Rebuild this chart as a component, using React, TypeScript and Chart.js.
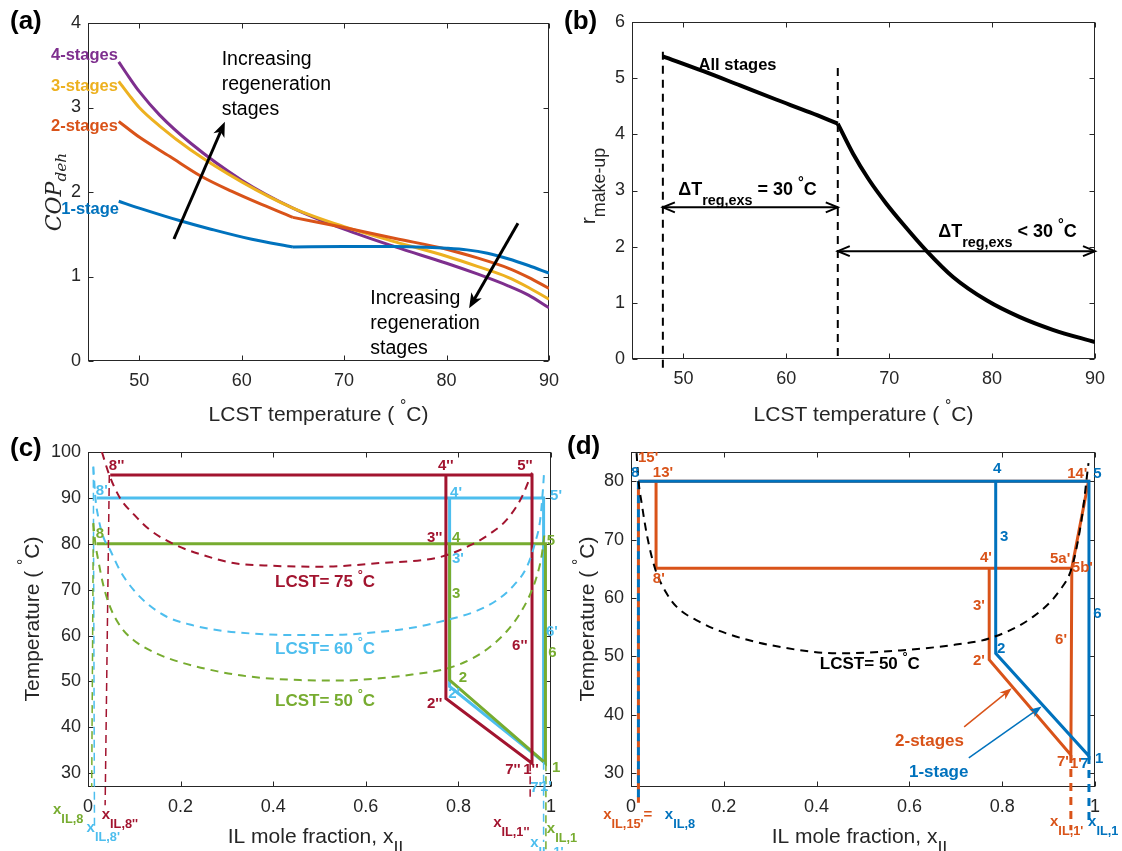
import React, { useEffect, useRef } from "react";
import { Chart, registerables } from "chart.js";
Chart.register(...registerables);

const FONT = '"Liberation Sans", Arial, Helvetica, sans-serif';
const SERIF = '"DejaVu Serif", "Liberation Serif", serif';
const AXIS = "#262626";
const BLACK = "#000000";
const BLUE = "#0072BD";
const ORANGE = "#D95319";
const YELLOW = "#EDB120";
const PURPLE = "#7E2F8E";
const GREEN = "#77AC30";
const LBLUE = "#4DBEEE";
const DRED = "#A2142F";

// ================= (a) COP_deh vs LCST temperature =================
const aTicksX = [50, 60, 70, 80, 90];
const aTicksY = [0, 1, 2, 3, 4];
const a1StageT = [48, 50, 54, 57, 61, 65, 70, 75, 78, 80, 82, 84, 86, 88, 90];
const a1StageCOP = [1.89, 1.81, 1.66, 1.56, 1.44, 1.35, 1.354, 1.354, 1.346, 1.335, 1.315, 1.275, 1.21, 1.13, 1.04];
const a2StageT = [48, 50, 53, 56, 59, 62, 65, 70, 75, 80, 83, 86, 88, 90];
const a2StageCOP = [2.835, 2.65, 2.42, 2.19, 2.01, 1.85, 1.7, 1.58, 1.45, 1.323, 1.22, 1.1, 0.99, 0.86];
const a3StageT = [48, 49, 50, 52, 55, 60, 65, 70, 75, 80, 83, 86, 88, 90];
const a3StageCOP = [3.31, 3.15, 3.0, 2.78, 2.5, 2.12, 1.81, 1.59, 1.41, 1.24, 1.12, 0.99, 0.87, 0.73];
const a4StageT = [48, 49, 50, 52, 55, 60, 65, 70, 75, 80, 83, 86, 88, 90];
const a4StageCOP = [3.54, 3.36, 3.19, 2.91, 2.58, 2.14, 1.81, 1.56, 1.35, 1.157, 1.03, 0.89, 0.78, 0.63];

// ================= (b) r_make-up vs LCST temperature =================
const bTicksX = [50, 60, 70, 80, 90];
const bTicksY = [0, 1, 2, 3, 4, 5, 6];
const bLowT = [48, 52, 55.5, 59, 62.3, 65];
const bLowR = [5.39, 5.12, 4.87, 4.62, 4.39, 4.19];
const bHighT = [65, 66.5, 68, 69.7, 71.4, 73.6, 76.2, 79.5, 82.7, 85.9, 90];
const bHighR = [4.19, 3.65, 3.2, 2.77, 2.39, 1.93, 1.46, 1.04, 0.745, 0.52, 0.3];
const bGuide1T = [48, 48];
const bGuide1R = [5.47, -0.16];
const bGuide2T = [65, 65];
const bGuide2R = [5.18, 0];

// ================= (c) T-x diagram, three LCSTs =================
const cTicksX = [0, 0.2, 0.4, 0.6, 0.8, 1];
const cTicksY = [30, 40, 50, 60, 70, 80, 90, 100];
const bin75X = [0.03, 0.046, 0.069, 0.1, 0.134, 0.19, 0.25, 0.314, 0.4, 0.5, 0.63, 0.76, 0.832, 0.87, 0.904, 0.935, 0.959];
const bin75Y = [100, 95, 90, 86.3, 83, 79.7, 77.5, 75.8, 75.2, 75.0, 75.8, 77.1, 80, 82.3, 85.2, 89.8, 95.5];
const bin60X = [0.0115, 0.016, 0.022, 0.033, 0.0475, 0.07, 0.098, 0.13, 0.17, 0.22, 0.278, 0.36, 0.458, 0.55, 0.63, 0.7, 0.775, 0.835, 0.883, 0.92, 0.948, 0.965, 0.977, 0.983, 0.985];
const bin60Y = [96.8, 90, 85.9, 81.5, 78.7, 74, 70.0, 66.8, 64.1, 62.4, 61.2, 60.4, 60.1, 60.2, 60.8, 61.7, 63.4, 65.2, 67.7, 71, 75, 80, 85.5, 92.4, 95.5];
const bin50X = [0.0115, 0.016, 0.022, 0.033, 0.0475, 0.07, 0.098, 0.15, 0.206, 0.28, 0.35, 0.458, 0.55, 0.63, 0.7, 0.775, 0.83, 0.868, 0.905, 0.933, 0.955, 0.969, 0.98, 0.987];
const bin50Y = [84.5, 80, 76.5, 71, 66.3, 62, 59.05, 56, 54.0, 52.2, 51.05, 50.3, 50.2, 50.7, 51.5, 52.8, 55, 57.5, 61, 64.8, 69, 72.8, 77.5, 83];
const cyc95X = [0.048, 0.959, 0.959, 0.773, 0.773];
const cyc95Y = [95, 95, 32.2, 46.3, 95];
const cyc90X = [0.019, 0.984, 0.984, 0.781, 0.781];
const cyc90Y = [90, 90, 32.5, 48.9, 90];
const cyc80X = [0.019, 0.988, 0.988, 0.781, 0.781];
const cyc80Y = [80, 80, 32.2, 50.3, 80];
const xIL8ppX = [0.046, 0.037];
const xIL8ppY = [95, 23];
const xIL8pX = [0.0115, 0.014];
const xIL8pY = [96.8, 18.3];
const xIL8X = [0.0115, 0.008];
const xIL8Y = [84.5, 27];
const xIL1ppX = [0.955, 0.955];
const xIL1ppY = [32.2, 24.9];
const xIL1pX = [0.984, 0.984];
const xIL1pY = [32.5, 15];
const xIL1X = [0.989, 0.989];
const xIL1Y = [32.2, 13.3];

// ================= (d) T-x diagram, 1-stage vs 2-stages =================
const dTicksX = [0, 0.2, 0.4, 0.6, 0.8, 1];
const dTicksY = [30, 40, 50, 60, 70, 80];
const dBinX = [0.012, 0.016, 0.023, 0.035, 0.052, 0.075, 0.098, 0.15, 0.206, 0.314, 0.45, 0.58, 0.7, 0.774, 0.867, 0.925, 0.95, 0.971, 0.986];
const dBinY = [84.8, 80.2, 76.2, 70.5, 65.0, 61.0, 58.5, 55.8, 53.9, 51.7, 50.5, 51.0, 52.0, 53.1, 56.8, 61.4, 65.2, 73.4, 83.1];
const d1StageX = [0.016, 0.987, 0.987, 0.786, 0.786];
const d1StageY = [80, 80, 32.9, 50.5, 80];
const d2StageTopX = [0.016, 0.986, 0.95, 0.054, 0.054];
const d2StageTopY = [80, 80, 65.1, 65.1, 80];
const d2StageLowX = [0.772, 0.772, 0.948, 0.95];
const d2StageLowY = [65.1, 49.4, 33.1, 65.1];
const dXIL8X = [0.016, 0.016];
const dXIL8Y = [80, 25];
const dXIL15X = [0.016, 0.016];
const dXIL15Y = [80, 24.9];
const dXIL1pX = [0.948, 0.948];
const dXIL1pY = [33.1, 20.2];
const dXIL1X = [0.987, 0.987];
const dXIL1Y = [32.9, 21.4];

// ---------------- helpers ----------------
type Pt = { x: number; y: number };
const zip = (xs: number[], ys: number[]): Pt[] => xs.map((x, i) => ({ x, y: ys[i] }));
function splitAt(xs: number[], ys: number[], at: number): [Pt[], Pt[]] {
  const i = xs.indexOf(at);
  return [zip(xs.slice(0, i + 1), ys.slice(0, i + 1)), zip(xs.slice(i), ys.slice(i))];
}
const curve = (data: Pt[], color: string, width: number, extra: any = {}) => ({
  data, borderColor: color, borderWidth: width, pointRadius: 0, fill: false,
  cubicInterpolationMode: "monotone", borderCapStyle: "butt", ...extra,
});
const poly = (data: Pt[], color: string, width: number, extra: any = {}) => ({
  data, borderColor: color, borderWidth: width, pointRadius: 0, fill: false,
  tension: 0, borderJoinStyle: "miter", ...extra,
});
const dashed = (data: Pt[], color: string, width: number, dash: number[], extra: any = {}) => ({
  data, borderColor: color, borderWidth: width, pointRadius: 0, fill: false,
  tension: 0, borderDash: dash, clip: false, ...extra,
});

type Seg = { t: string; m: 0 | 1 | 2 };
function parseRich(s: string): Seg[] {
  const out: Seg[] = [];
  const re = /(_\{[^}]*\}|\^\{[^}]*\})/g;
  let last = 0;
  let m: RegExpExecArray | null;
  while ((m = re.exec(s))) {
    if (m.index > last) out.push({ t: s.slice(last, m.index), m: 0 });
    out.push({ t: m[0].slice(2, -1), m: m[0][0] === "_" ? 1 : 2 });
    last = m.index + m[0].length;
  }
  if (last < s.length) out.push({ t: s.slice(last), m: 0 });
  return out;
}

interface RichStyle {
  size: number; color: string; bold?: boolean; italic?: boolean; family?: string;
  align?: "left" | "center" | "right"; subScale?: number; subShift?: number;
}
function drawRich(ctx: CanvasRenderingContext2D, s: string, x: number, y: number, st: RichStyle) {
  const segs = parseRich(s);
  const fam = st.family || FONT;
  const subScale = st.subScale ?? 0.8;
  const fontFor = (m: number) =>
    `${st.italic ? "italic " : ""}${st.bold ? "bold " : ""}${m === 0 ? st.size : st.size * subScale}px ${fam}`;
  let w = 0;
  const widths = segs.map((sg) => {
    ctx.font = fontFor(sg.m);
    const ww = ctx.measureText(sg.t).width;
    w += ww;
    return ww;
  });
  let cx = st.align === "center" ? x - w / 2 : st.align === "right" ? x - w : x;
  const base = y + st.size * 0.36;
  ctx.fillStyle = st.color;
  ctx.textBaseline = "alphabetic";
  ctx.textAlign = "left";
  segs.forEach((sg, i) => {
    ctx.font = fontFor(sg.m);
    const dy = sg.m === 1 ? st.size * (st.subShift ?? 0.5) : sg.m === 2 ? -st.size * 0.45 : 0;
    ctx.fillText(sg.t, cx, base + dy);
    cx += widths[i];
  });
}

function drawArrow(ctx: CanvasRenderingContext2D, x1: number, y1: number, x2: number, y2: number,
  color: string, lw: number, L: number, W: number, both: boolean, open: boolean) {
  const a = Math.atan2(y2 - y1, x2 - x1);
  const c = Math.cos(a), s = Math.sin(a);
  ctx.strokeStyle = color;
  ctx.fillStyle = color;
  ctx.lineWidth = lw;
  ctx.setLineDash([]);
  ctx.lineCap = "butt";
  const head = (tx: number, ty: number, cc: number, ss: number) => {
    if (open) {
      ctx.beginPath();
      ctx.moveTo(tx - L * cc + (W / 2) * ss, ty - L * ss - (W / 2) * cc);
      ctx.lineTo(tx, ty);
      ctx.lineTo(tx - L * cc - (W / 2) * ss, ty - L * ss + (W / 2) * cc);
      ctx.stroke();
      return;
    }
    ctx.beginPath();
    ctx.moveTo(tx, ty);
    ctx.lineTo(tx - L * cc + (W / 2) * ss, ty - L * ss - (W / 2) * cc);
    ctx.lineTo(tx - 0.72 * L * cc, ty - 0.72 * L * ss);
    ctx.lineTo(tx - L * cc - (W / 2) * ss, ty - L * ss + (W / 2) * cc);
    ctx.closePath();
    ctx.fill();
  };
  const inset = open ? 0 : 0.7 * L;
  const sx = both ? x1 + inset * c : x1;
  const sy = both ? y1 + inset * s : y1;
  ctx.beginPath();
  ctx.moveTo(sx, sy);
  ctx.lineTo(x2 - inset * c, y2 - inset * s);
  ctx.stroke();
  head(x2, y2, c, s);
  if (both) head(x1, y1, -c, -s);
}

interface Txt extends Partial<RichStyle> { s: string; x: number; y: number; c: string; size: number; }
interface Arw { x1: number; y1: number; x2: number; y2: number; c: string; w: number; L: number; W: number; both?: boolean; open?: boolean; }
interface PageTxt extends Partial<RichStyle> { s: string; px: number; py: number; size: number; c: string; rotate?: boolean; }
interface Spec {
  canvas: { left: number; top: number; width: number; height: number };
  area: { left: number; top: number; right: number; bottom: number };
  x: { min: number; max: number; ticks: number[] };
  y: { min: number; max: number; ticks: number[] };
  datasets: any[];
  texts: Txt[];
  arrows: Arw[];
  page: PageTxt[];
}

const PT = 15; // point-label size
const TITLE = 21;
const lab = (s: string, x: number, y: number, c: string, extra: any = {}): Txt => ({ s, x, y, c, size: PT, bold: true, align: "left", ...extra });
const lcst = (s: string, x: number, y: number, c: string): Txt => ({ s, x, y, c, size: 17, bold: true, align: "left", subScale: 0.75 });
const xl = (s: string, x: number, y: number, c: string): Txt => ({ s, x, y, c, size: 15, bold: true, align: "left", subShift: 0.6, subScale: 0.85 });

// ---------------- panel specs ----------------
const [a1L, a1R] = splitAt(a1StageT, a1StageCOP, 65);
const [a2L, a2R] = splitAt(a2StageT, a2StageCOP, 65);

const specA: Spec = {
  canvas: { left: 0, top: 0, width: 580, height: 430 },
  area: { left: 88, top: 23, right: 549, bottom: 361 },
  x: { min: 45, max: 90, ticks: aTicksX },
  y: { min: 0, max: 4, ticks: aTicksY },
  datasets: [
    curve(a1L, BLUE, 3), curve(a1R, BLUE, 3),
    curve(a2L, ORANGE, 3), curve(a2R, ORANGE, 3),
    curve(zip(a3StageT, a3StageCOP), YELLOW, 3),
    curve(zip(a4StageT, a4StageCOP), PURPLE, 3),
  ],
  texts: [
    { s: "4-stages", x: 47.92, y: 3.63, c: PURPLE, size: 16.5, bold: true, align: "right" },
    { s: "3-stages", x: 47.92, y: 3.27, c: YELLOW, size: 16.5, bold: true, align: "right" },
    { s: "2-stages", x: 47.92, y: 2.79, c: ORANGE, size: 16.5, bold: true, align: "right" },
    { s: "1-stage", x: 48.03, y: 1.81, c: BLUE, size: 16.5, bold: true, align: "right" },
    { s: "Increasing", x: 58.05, y: 3.586, c: BLACK, size: 19.5 },
    { s: "regeneration", x: 58.05, y: 3.29, c: BLACK, size: 19.5 },
    { s: "stages", x: 58.05, y: 2.99, c: BLACK, size: 19.5 },
    { s: "Increasing", x: 72.56, y: 0.757, c: BLACK, size: 19.5 },
    { s: "regeneration", x: 72.56, y: 0.462, c: BLACK, size: 19.5 },
    { s: "stages", x: 72.56, y: 0.166, c: BLACK, size: 19.5 },
  ],
  arrows: [
    { x1: 53.39, y1: 1.444, x2: 58.36, y2: 2.83, c: BLACK, w: 3, L: 15, W: 12 },
    { x1: 86.97, y1: 1.63, x2: 82.2, y2: 0.624, c: BLACK, w: 3, L: 15, W: 12 },
  ],
  page: [
    { s: "(a)", px: 10, py: 20, size: 26, bold: true, c: BLACK },
    { s: "LCST temperature ( ^{°}C)", px: 318.5, py: 413, size: TITLE, c: AXIS, align: "center", subScale: 0.75 },
    { s: "COP_{deh}", px: 53, py: 192, size: 22, c: AXIS, italic: true, family: SERIF, rotate: true, align: "center", subShift: 0.25, subScale: 0.7 },
  ],
};

const specB: Spec = {
  canvas: { left: 560, top: 0, width: 562, height: 430 },
  area: { left: 632, top: 22, right: 1095, bottom: 359 },
  x: { min: 45, max: 90, ticks: bTicksX },
  y: { min: 0, max: 6, ticks: bTicksY },
  datasets: [
    dashed(zip(bGuide1T, bGuide1R), BLACK, 2, [8, 6]),
    dashed(zip(bGuide2T, bGuide2R), BLACK, 2, [8, 6]),
    curve(zip(bLowT, bLowR), BLACK, 4),
    curve(zip(bHighT, bHighR), BLACK, 4),
  ],
  texts: [
    { s: "All stages", x: 51.47, y: 5.25, c: BLACK, size: 16.5, bold: true },
    { s: "ΔT_{reg,exs} = 30 ^{°}C", x: 49.49, y: 3.04, c: BLACK, size: 18, bold: true, subShift: 0.55, subScale: 0.8 },
    { s: "ΔT_{reg,exs} < 30 ^{°}C", x: 74.76, y: 2.28, c: BLACK, size: 18, bold: true, subShift: 0.55, subScale: 0.8 },
  ],
  arrows: [
    { x1: 48, y1: 2.7, x2: 65, y2: 2.7, c: BLACK, w: 2, L: 12, W: 10, both: true, open: true },
    { x1: 65, y1: 1.92, x2: 90, y2: 1.92, c: BLACK, w: 2, L: 12, W: 10, both: true, open: true },
  ],
  page: [
    { s: "(b)", px: 564, py: 20, size: 26, bold: true, c: BLACK },
    { s: "LCST temperature ( ^{°}C)", px: 863.5, py: 413, size: TITLE, c: AXIS, align: "center", subScale: 0.75 },
    { s: "r_{make-up}", px: 587, py: 186, size: TITLE, c: AXIS, rotate: true, align: "center", subShift: 0.5, subScale: 0.85 },
  ],
};

const specC: Spec = {
  canvas: { left: 0, top: 425, width: 600, height: 426 },
  area: { left: 88, top: 452, right: 551, bottom: 787 },
  x: { min: 0, max: 1, ticks: cTicksX },
  y: { min: 27, max: 100, ticks: cTicksY },
  datasets: [
    curve(zip(bin75X, bin75Y), DRED, 2, { borderDash: [8, 6] }),
    curve(zip(bin60X, bin60Y), LBLUE, 2, { borderDash: [8, 6] }),
    curve(zip(bin50X, bin50Y), GREEN, 2, { borderDash: [8, 6] }),
    dashed(zip(xIL8X, xIL8Y), GREEN, 1.5, [8, 5]),
    dashed(zip(xIL8pX, xIL8pY), LBLUE, 1.5, [8, 5]),
    dashed(zip(xIL8ppX, xIL8ppY), DRED, 1.5, [8, 5]),
    dashed(zip(xIL1ppX, xIL1ppY), DRED, 1.5, [8, 5]),
    dashed(zip(xIL1pX, xIL1pY), LBLUE, 1.5, [8, 5]),
    dashed(zip(xIL1X, xIL1Y), GREEN, 1.5, [8, 5]),
    poly(zip(cyc95X, cyc95Y), DRED, 3),
    poly(zip(cyc80X, cyc80Y), GREEN, 3),
    poly(zip(cyc90X, cyc90Y), LBLUE, 3),
  ],
  texts: [
    lab("8''", 0.045, 97.2, DRED), lab("4''", 0.756, 97.2, DRED), lab("5''", 0.927, 97.2, DRED),
    lab("3''", 0.732, 81.5, DRED), lab("6''", 0.916, 58.0, DRED), lab("2''", 0.732, 45.3, DRED),
    lab("7''", 0.901, 31.1, DRED), lab("1''", 0.94, 31.1, DRED),
    lcst("LCST= 75 ^{°}C", 0.404, 71.9, DRED),
    lab("8'", 0.017, 91.8, LBLUE), lab("4'", 0.782, 91.3, LBLUE), lab("5'", 0.998, 90.7, LBLUE),
    lab("3'", 0.786, 76.9, LBLUE), lab("6'", 0.989, 61.0, LBLUE), lab("2'", 0.778, 47.5, LBLUE),
    lab("7'", 0.955, 27.0, LBLUE), lab("1'", 0.976, 27.4, LBLUE),
    lcst("LCST= 60 ^{°}C", 0.404, 57.3, LBLUE),
    lab("8", 0.017, 82.4, GREEN), lab("4", 0.786, 81.5, GREEN), lab("5", 0.991, 80.9, GREEN),
    lab("3", 0.786, 69.3, GREEN), lab("6", 0.994, 56.4, GREEN), lab("2", 0.801, 51.0, GREEN),
    lab("1", 1.002, 31.4, GREEN),
    lcst("LCST= 50 ^{°}C", 0.404, 46.0, GREEN),
    xl("x_{IL,8}", -0.0756, 22.4, GREEN),
    xl("x_{IL,8''}", 0.0296, 21.1, DRED),
    xl("x_{IL,8'}", -0.003, 18.3, LBLUE),
    xl("x_{IL,1''}", 0.875, 19.4, DRED),
    xl("x_{IL,1'}", 0.955, 15.0, LBLUE),
    xl("x_{IL,1}", 0.991, 18.1, GREEN),
  ],
  arrows: [],
  page: [
    { s: "(c)", px: 10, py: 447, size: 26, bold: true, c: BLACK },
    { s: "IL mole fraction, x_{IL}", px: 318, py: 835, size: TITLE, c: AXIS, align: "center", subShift: 0.55, subScale: 0.85 },
    { s: "Temperature ( ^{°}C)", px: 31, py: 619, size: TITLE, c: AXIS, rotate: true, align: "center", subScale: 0.75 },
  ],
};

const specD: Spec = {
  canvas: { left: 555, top: 425, width: 567, height: 426 },
  area: { left: 631, top: 452, right: 1095, bottom: 787 },
  x: { min: 0, max: 1, ticks: dTicksX },
  y: { min: 27.6, max: 85, ticks: dTicksY },
  datasets: [
    curve(zip(dBinX, dBinY), BLACK, 2, { borderDash: [8, 6] }),
    dashed(zip(dXIL8X, dXIL8Y), BLUE, 3, [8, 6]),
    dashed(zip(dXIL15X, dXIL15Y), ORANGE, 3, [8, 6], { borderDashOffset: 7 }),
    dashed(zip(dXIL1pX, dXIL1pY), ORANGE, 3, [8, 6]),
    dashed(zip(dXIL1X, dXIL1Y), BLUE, 3, [8, 6]),
    poly(zip(d1StageX, d1StageY), BLUE, 3),
    poly(zip(d2StageTopX, d2StageTopY), ORANGE, 3),
    poly(zip(d2StageLowX, d2StageLowY), ORANGE, 3),
  ],
  texts: [
    lab("8", 0, 81.6, BLUE), lab("4", 0.78, 82.3, BLUE), lab("5", 0.996, 81.4, BLUE),
    lab("3", 0.795, 70.6, BLUE), lab("2", 0.789, 51.4, BLUE), lab("6", 0.996, 57.4, BLUE),
    lab("1", 1.0, 32.6, BLUE), lab("7", 0.968, 31.7, BLUE),
    lab("15'", 0.015, 84.2, ORANGE), lab("13'", 0.047, 81.6, ORANGE), lab("8'", 0.047, 63.4, ORANGE),
    lab("14'", 0.94, 81.4, ORANGE), lab("4'", 0.752, 67.0, ORANGE), lab("5a'", 0.903, 66.9, ORANGE),
    lab("5b'", 0.95, 65.3, ORANGE), lab("3'", 0.737, 58.8, ORANGE), lab("6'", 0.914, 53.1, ORANGE),
    lab("2'", 0.737, 49.4, ORANGE), lab("7'", 0.918, 32.2, ORANGE), lab("1'", 0.946, 31.7, ORANGE),
    lcst("LCST= 50 ^{°}C", 0.407, 48.9, BLACK),
    { s: "2-stages", x: 0.569, y: 35.66, c: ORANGE, size: 17, bold: true },
    { s: "1-stage", x: 0.599, y: 30.34, c: BLUE, size: 17, bold: true },
    xl("x_{IL,15'}=", -0.06, 23.1, ORANGE),
    xl("x_{IL,8}", 0.073, 23.1, BLUE),
    xl("x_{IL,1'}", 0.903, 21.9, ORANGE),
    xl("x_{IL,1}", 0.985, 21.9, BLUE),
  ],
  arrows: [
    { x1: 0.718, y1: 37.9, x2: 0.8205, y2: 44.5, c: ORANGE, w: 1.5, L: 12, W: 9 },
    { x1: 0.728, y1: 32.6, x2: 0.885, y2: 41.4, c: BLUE, w: 1.5, L: 12, W: 9 },
  ],
  page: [
    { s: "(d)", px: 567, py: 445, size: 26, bold: true, c: BLACK },
    { s: "IL mole fraction, x_{IL}", px: 862, py: 835, size: TITLE, c: AXIS, align: "center", subShift: 0.55, subScale: 0.85 },
    { s: "Temperature ( ^{°}C)", px: 586, py: 619, size: TITLE, c: AXIS, rotate: true, align: "center", subScale: 0.75 },
  ],
};

const SPECS = [specA, specB, specC, specD];

// ---------------- chart building ----------------
const fmt = (v: any) => String(+Number(v).toFixed(2));

function decoPlugin(spec: Spec) {
  return {
    id: "deco",
    beforeDatasetsDraw(chart: any) {
      const ctx: CanvasRenderingContext2D = chart.ctx;
      const xs = chart.scales.x, ys = chart.scales.y;
      const a = chart.chartArea;
      const L = Math.round(a.left) + 0.5, R = Math.round(a.right) - 0.5;
      const T = Math.round(a.top) + 0.5, B = Math.round(a.bottom) - 0.5;
      ctx.save();
      ctx.strokeStyle = AXIS;
      ctx.lineWidth = 1;
      ctx.setLineDash([]);
      ctx.strokeRect(L, T, R - L, B - T);
      ctx.beginPath();
      spec.x.ticks.forEach((v) => {
        const p = Math.round(xs.getPixelForValue(v)) + 0.5;
        ctx.moveTo(p, B); ctx.lineTo(p, B - 5);
        ctx.moveTo(p, T); ctx.lineTo(p, T + 5);
      });
      spec.y.ticks.forEach((v) => {
        const p = Math.round(ys.getPixelForValue(v)) + 0.5;
        ctx.moveTo(L, p); ctx.lineTo(L + 5, p);
        ctx.moveTo(R, p); ctx.lineTo(R - 5, p);
      });
      ctx.stroke();
      ctx.restore();
    },
    afterDatasetsDraw(chart: any) {
      const ctx: CanvasRenderingContext2D = chart.ctx;
      const xs = chart.scales.x, ys = chart.scales.y;
      ctx.save();
      spec.arrows.forEach((r) => {
        drawArrow(ctx, xs.getPixelForValue(r.x1), ys.getPixelForValue(r.y1),
          xs.getPixelForValue(r.x2), ys.getPixelForValue(r.y2), r.c, r.w, r.L, r.W, !!r.both, !!r.open);
      });
      spec.texts.forEach((t) => {
        drawRich(ctx, t.s, xs.getPixelForValue(t.x), ys.getPixelForValue(t.y), {
          size: t.size, color: t.c, bold: t.bold, italic: t.italic, family: t.family,
          align: t.align || "left", subScale: t.subScale, subShift: t.subShift,
        });
      });
      spec.page.forEach((t) => {
        const x = t.px - spec.canvas.left, y = t.py - spec.canvas.top;
        const st: RichStyle = {
          size: t.size, color: t.c, bold: t.bold, italic: t.italic, family: t.family,
          align: t.align || "left", subScale: t.subScale, subShift: t.subShift,
        };
        if (t.rotate) {
          ctx.save();
          ctx.translate(x, y);
          ctx.rotate(-Math.PI / 2);
          drawRich(ctx, t.s, 0, 0, st);
          ctx.restore();
        } else {
          drawRich(ctx, t.s, x, y, st);
        }
      });
      ctx.restore();
    },
  };
}

function buildConfig(spec: Spec): any {
  const { canvas, area } = spec;
  const tickFont = { family: FONT, size: 18 };
  return {
    type: "line",
    data: { datasets: spec.datasets },
    plugins: [decoPlugin(spec)],
    options: {
      responsive: false,
      animation: false,
      devicePixelRatio: 1,
      events: [],
      layout: {
        padding: {
          left: 0,
          top: area.top - canvas.top,
          right: canvas.left + canvas.width - area.right,
          bottom: 0,
        },
      },
      plugins: { legend: { display: false }, tooltip: { enabled: false } },
      scales: {
        x: {
          type: "linear",
          min: spec.x.min,
          max: spec.x.max,
          bounds: "data",
          afterBuildTicks: (s: any) => { s.ticks = spec.x.ticks.map((v) => ({ value: v })); },
          afterFit: (s: any) => { s.height = canvas.top + canvas.height - area.bottom; },
          grid: { display: false, drawTicks: false },
          border: { display: false },
          ticks: { padding: 9, color: AXIS, font: tickFont, callback: fmt, maxRotation: 0, autoSkip: false },
        },
        y: {
          type: "linear",
          min: spec.y.min,
          max: spec.y.max,
          bounds: "data",
          afterBuildTicks: (s: any) => { s.ticks = spec.y.ticks.map((v) => ({ value: v })); },
          afterFit: (s: any) => { s.width = area.left - canvas.left; },
          grid: { display: false, drawTicks: false },
          border: { display: false },
          ticks: { padding: 7, color: AXIS, font: tickFont, callback: fmt, autoSkip: false },
        },
      },
    },
  };
}

function Panel({ spec }: { spec: Spec }) {
  const ref = useRef<HTMLCanvasElement>(null);
  useEffect(() => {
    if (!ref.current) return;
    const chart = new Chart(ref.current, buildConfig(spec));
    return () => chart.destroy();
  }, [spec]);
  const c = spec.canvas;
  return (
    <canvas
      ref={ref}
      width={c.width}
      height={c.height}
      style={{ position: "absolute", left: c.left, top: c.top, width: c.width, height: c.height }}
    />
  );
}

export default function App() {
  return (
    <div style={{ position: "absolute", left: 0, top: 0, width: 1122, height: 851, background: "#ffffff", overflow: "hidden" }}>
      {SPECS.map((s, i) => (
        <Panel key={i} spec={s} />
      ))}
    </div>
  );
}
